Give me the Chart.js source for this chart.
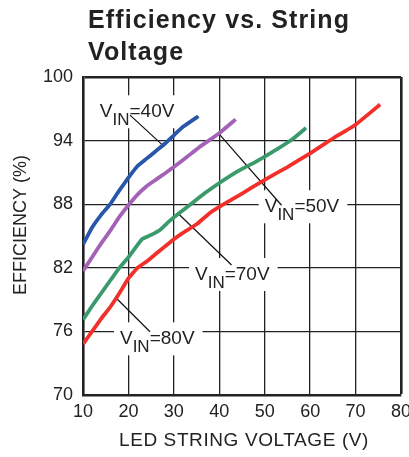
<!DOCTYPE html>
<html>
<head>
<meta charset="utf-8">
<script src="https://cdn.jsdelivr.net/npm/chart.js@4.4.1/dist/chart.umd.min.js"></script>
<style>
  html, body { margin: 0; padding: 0; background: #fff; }
  #wrap { width: 409px; height: 457px; }
</style>
</head>
<body>
<div id="wrap"><canvas id="c" width="409" height="457"></canvas></div>
<script>
// values
const xTicks = [10, 20, 30, 40, 50, 60, 70, 80];
const yTicks = [70, 76, 82, 88, 94, 100];

const x40 = [10, 12, 14, 16, 18, 20, 22, 24, 26, 28, 30, 32, 35.4];
const y40 = [84.2, 85.8, 87.0, 88.0, 89.3, 90.5, 91.6, 92.3, 93.0, 93.7, 94.5, 95.3, 96.3];

const x50 = [10, 12, 14, 16, 18, 20, 22, 24, 26, 28, 30, 33, 36, 40, 43.6];
const y50 = [81.7, 83.0, 84.3, 85.5, 86.8, 87.9, 88.9, 89.7, 90.3, 90.9, 91.5, 92.5, 93.5, 94.7, 96.0];

const x70 = [10, 12, 14, 16, 18, 20, 23, 25, 27, 29, 31, 34, 37, 40, 44, 48, 52, 56, 59.1];
const y70 = [77.1, 78.4, 79.6, 80.8, 82.0, 83.0, 84.7, 85.1, 85.6, 86.4, 87.1, 88.1, 89.1, 90.0, 91.1, 92.0, 93.0, 94.1, 95.2];

const x80 = [10, 12, 14, 16, 18, 20, 22, 24, 26, 28, 30, 32, 35, 38, 41, 45, 50, 55, 60, 65, 70, 75.4];
const y80 = [74.8, 76.0, 77.2, 78.3, 79.6, 81.0, 82.0, 82.6, 83.3, 84.0, 84.7, 85.3, 86.1, 87.2, 88.0, 89.0, 90.3, 91.5, 92.8, 94.2, 95.5, 97.4];

const pts = (xs, ys) => xs.map((x, i) => ({ x, y: ys[i] }));

// curve labels: text start/baseline and leader line, in data units
const notes = [
  { text: '40V', x: 13.7, y: 96.2, from: [20.35, 96.4], to: [27.7, 93.5] },
  { text: '50V', x: 50.0, y: 87.24, from: [39.8, 94.7], to: [53.7, 87.9] },
  { text: '70V', x: 34.65, y: 80.85, from: [31.0, 87.1], to: [42.7, 82.26] },
  { text: '80V', x: 18.14, y: 74.78, from: [17.4, 79.1], to: [24.75, 75.97] }
];

const ink = '#222';
const font = '"Liberation Sans", Arial, sans-serif';

const decorations = {
  id: 'decorations',
  beforeDatasetsDraw(chart) {
    const { ctx, scales: { x, y } } = chart;
    ctx.save();
    notes.forEach(n => {
      const px = x.getPixelForValue(n.x);
      const py = y.getPixelForValue(n.y);
      ctx.font = '19px ' + font;
      const wV = ctx.measureText('V').width;
      const wRest = ctx.measureText('=' + n.text).width;
      ctx.font = '17px ' + font;
      const wSub = ctx.measureText('IN').width;
      const w = wV + wSub + wRest;
      // white box hides the grid behind the text
      ctx.fillStyle = '#fff';
      ctx.fillRect(px - 6, py - 22, w + 14, 33);
      ctx.fillStyle = ink;
      ctx.textBaseline = 'alphabetic';
      ctx.textAlign = 'left';
      ctx.font = '19px ' + font;
      ctx.fillText('V', px, py);
      ctx.font = '17px ' + font;
      ctx.fillText('IN', px + wV, py + 8);
      ctx.font = '19px ' + font;
      ctx.fillText('=' + n.text, px + wV + wSub, py);
      // leader
      ctx.strokeStyle = '#111';
      ctx.lineWidth = 1.2;
      ctx.beginPath();
      ctx.moveTo(x.getPixelForValue(n.from[0]), y.getPixelForValue(n.from[1]));
      ctx.lineTo(x.getPixelForValue(n.to[0]), y.getPixelForValue(n.to[1]));
      ctx.stroke();
    });
    ctx.restore();
  },
  afterDraw(chart) {
    const { ctx, chartArea } = chart;
    ctx.save();
    ctx.fillStyle = ink;
    ctx.textAlign = 'left';
    ctx.textBaseline = 'alphabetic';
    ctx.font = 'bold 25px ' + font;
    ctx.letterSpacing = '1.1px';
    ctx.fillText('Efficiency vs. String', 88, 28);
    ctx.fillText('Voltage', 88, 60);
    ctx.letterSpacing = '0px';
    // axis titles
    ctx.textAlign = 'center';
    ctx.font = '19px ' + font;
    ctx.letterSpacing = '0.6px';
    ctx.fillText('LED STRING VOLTAGE (V)', (chartArea.left + chartArea.right) / 2 + 2, 446);
    ctx.translate(26, 225);
    ctx.rotate(-Math.PI / 2);
    ctx.font = '18px ' + font;
    ctx.letterSpacing = '0px';
    ctx.fillText('EFFICIENCY (%)', 0, 0);
    ctx.restore();
  }
};

const line = (data, color) => ({
  data, borderColor: color, borderWidth: 3.8, pointRadius: 0, tension: 0.1, fill: false
});

new Chart(document.getElementById('c'), {
  type: 'line',
  data: {
    datasets: [
      line(pts(x40, y40), '#2857aa'),
      line(pts(x50, y50), '#a462b6'),
      line(pts(x70, y70), '#3a9a6b'),
      line(pts(x80, y80), '#f2302b')
    ]
  },
  options: {
    responsive: false,
    animation: false,
    events: [],
    layout: { padding: { left: 0, top: 77, right: 8, bottom: 0 } },
    plugins: { legend: { display: false }, tooltip: { enabled: false }, title: { display: false } },
    scales: {
      x: {
        type: 'linear', min: 10, max: 80,
        afterBuildTicks: s => { s.ticks = xTicks.map(v => ({ value: v })); },
        afterFit: s => { s.height = 62; s.paddingLeft = 0; s.paddingRight = 0; },
        ticks: { color: ink, font: { family: font, size: 18 }, padding: 6, maxRotation: 0, autoSkip: false },
        grid: { color: ink, drawTicks: false, lineWidth: c => (c.tick && c.tick.value === 80 ? 2.6 : 1.3) },
        border: { display: true, color: ink, width: 2.6 }
      },
      y: {
        type: 'linear', min: 70, max: 100,
        afterBuildTicks: s => { s.ticks = yTicks.map(v => ({ value: v })); },
        afterFit: s => { s.width = 83; s.paddingTop = 0; s.paddingBottom = 0; },
        ticks: { color: ink, font: { family: font, size: 18 }, padding: 10, autoSkip: false },
        grid: { color: ink, drawTicks: false, lineWidth: c => (c.tick && c.tick.value === 100 ? 2.6 : 1.3) },
        border: { display: true, color: ink, width: 2.6 }
      }
    }
  },
  plugins: [decorations]
});
</script>
</body>
</html>
